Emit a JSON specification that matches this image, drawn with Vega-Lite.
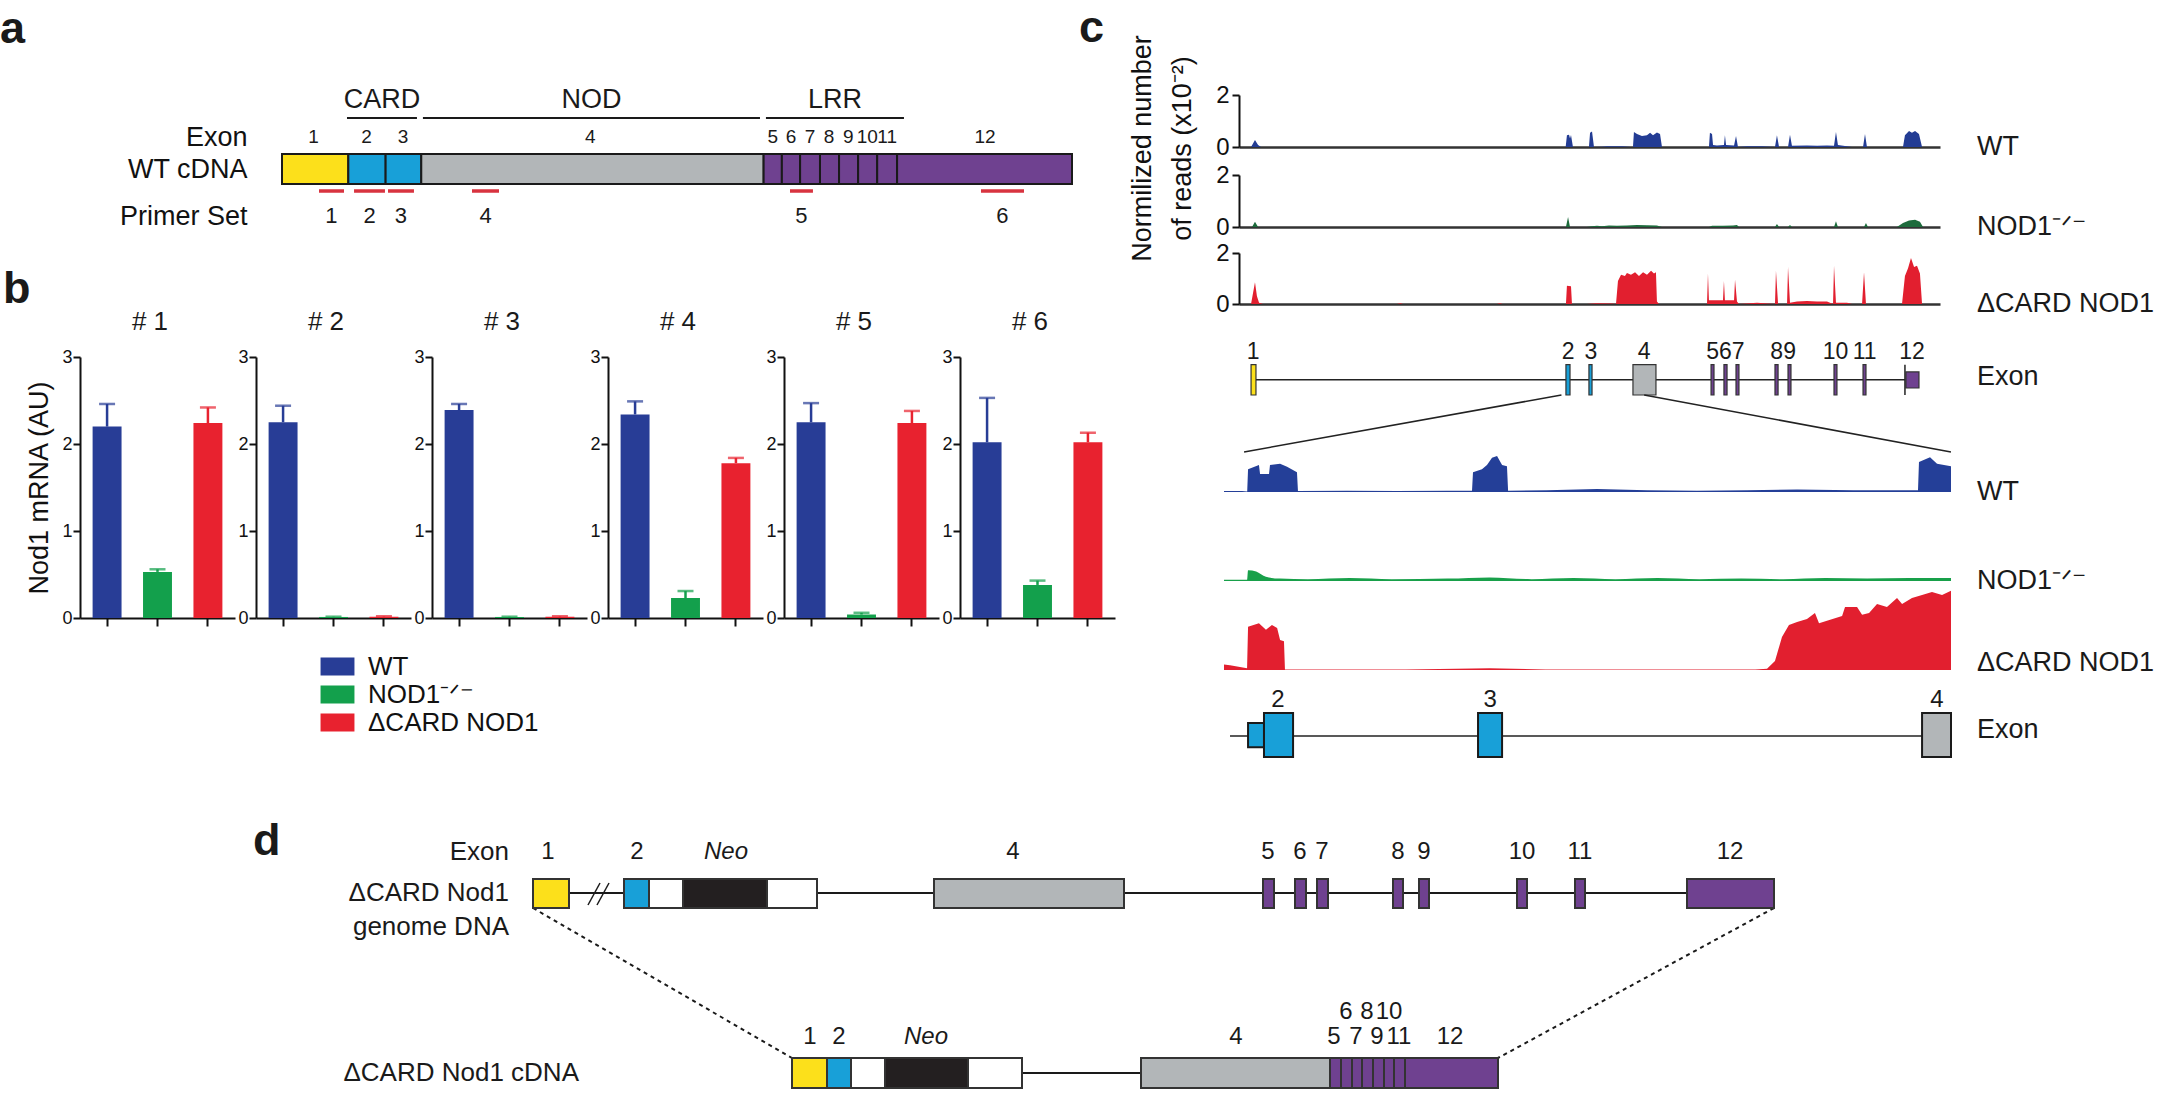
{
  "$schema": "https://vega.github.io/schema/vega-lite/v6.json",
  "padding": 0,
  "autosize": {"type": "pad"},
  "background": "white",
  "spacing": 32,
  "bounds": "full",
  "align": "none",
  "config": {
    "view": {"stroke": null},
    "font": "Liberation Sans",
    "title": {"font": "Liberation Sans", "fontWeight": "normal", "color": "#1a1a1a"},
    "axis": {"grid": false, "domainColor": "#111", "tickColor": "#111", "labelColor": "#111", "titleColor": "#111", "domainWidth": 2, "tickWidth": 2, "labelFont": "Liberation Sans", "titleFont": "Liberation Sans"},
    "legend": {"labelFont": "Liberation Sans", "labelColor": "#111"},
    "text": {"font": "Liberation Sans", "color": "#1a1a1a"}
  },
  "datasets": {
    "qpcr": [
      {"set": 1, "genotype": "WT", "mean": 2.2, "upper": 2.46},
      {"set": 1, "genotype": "NOD1⁻ᐟ⁻", "mean": 0.53, "upper": 0.56},
      {"set": 1, "genotype": "ΔCARD NOD1", "mean": 2.24, "upper": 2.42},
      {"set": 2, "genotype": "WT", "mean": 2.25, "upper": 2.44},
      {"set": 2, "genotype": "NOD1⁻ᐟ⁻", "mean": 0.012, "upper": 0.015},
      {"set": 2, "genotype": "ΔCARD NOD1", "mean": 0.015, "upper": 0.02},
      {"set": 3, "genotype": "WT", "mean": 2.39, "upper": 2.46},
      {"set": 3, "genotype": "NOD1⁻ᐟ⁻", "mean": 0.012, "upper": 0.015},
      {"set": 3, "genotype": "ΔCARD NOD1", "mean": 0.015, "upper": 0.02},
      {"set": 4, "genotype": "WT", "mean": 2.34, "upper": 2.49},
      {"set": 4, "genotype": "NOD1⁻ᐟ⁻", "mean": 0.23, "upper": 0.31},
      {"set": 4, "genotype": "ΔCARD NOD1", "mean": 1.78, "upper": 1.84},
      {"set": 5, "genotype": "WT", "mean": 2.25, "upper": 2.47},
      {"set": 5, "genotype": "NOD1⁻ᐟ⁻", "mean": 0.04, "upper": 0.06},
      {"set": 5, "genotype": "ΔCARD NOD1", "mean": 2.24, "upper": 2.38},
      {"set": 6, "genotype": "WT", "mean": 2.02, "upper": 2.53},
      {"set": 6, "genotype": "NOD1⁻ᐟ⁻", "mean": 0.38, "upper": 0.43},
      {"set": 6, "genotype": "ΔCARD NOD1", "mean": 2.02, "upper": 2.13}
    ]
  },
  "vconcat": [
    {
      "hconcat": [
        {
          "vconcat": [
            {
              "hconcat": [
                {
                  "width": 262, "height": 265,
                  "data": {"values": []},
                  "mark": {"type": "text"},
                  "title": {"text": "a", "orient": "top", "anchor": "start", "frame": "group", "offset": -88, "baseline": "alphabetic", "fontSize": 45, "fontWeight": "bold"}
                },
                {
                  "width": 790, "height": 265,
                  "layer": [
                    {
                      "data": {"values": [
                        {"exon": "1", "start": 0, "end": 80, "part": "exon1"},
                        {"exon": "2", "start": 80, "end": 125, "part": "card"},
                        {"exon": "3", "start": 125, "end": 168, "part": "card"},
                        {"exon": "4", "start": 168, "end": 581, "part": "nod"},
                        {"exon": "5", "start": 581, "end": 603, "part": "lrr"},
                        {"exon": "6", "start": 603, "end": 625, "part": "lrr"},
                        {"exon": "7", "start": 625, "end": 649, "part": "lrr"},
                        {"exon": "8", "start": 649, "end": 672, "part": "lrr"},
                        {"exon": "9", "start": 672, "end": 695, "part": "lrr"},
                        {"exon": "10", "start": 695, "end": 718, "part": "lrr"},
                        {"exon": "11", "start": 718, "end": 742, "part": "lrr"},
                        {"exon": "12", "start": 742, "end": 953, "part": "lrr"}
                      ]},
                      "mark": {"type": "rect", "stroke": "#1a1a1a", "strokeWidth": 2},
                      "encoding": {
                        "x": {"field": "start", "type": "quantitative", "scale": {"domain": [0, 953], "nice": false, "zero": false}, "axis": null},
                        "x2": {"field": "end"},
                        "y": {"datum": 15.4, "type": "quantitative", "scale": {"domain": [0, 26.5], "range": [0, 265], "nice": false, "zero": false},
                          "axis": {"values": [13.7, 16.9, 21.6], "labelExpr": "datum.value == 13.7 ? 'Exon' : datum.value == 16.9 ? 'WT cDNA' : 'Primer Set'", "domain": false, "ticks": false, "tickSize": 0, "labelPadding": 35, "labelFontSize": 27, "labelFont": "Liberation Sans Narrow, Liberation Sans", "labelAlign": "right", "labelBaseline": "middle", "title": null}},
                        "y2": {"datum": 18.4},
                        "fill": {"field": "part", "type": "nominal", "scale": {"domain": ["exon1", "card", "nod", "lrr", "neo", "vector"], "range": ["#fce01b", "#18a0d8", "#b2b6b8", "#6f4190", "#231f20", "#ffffff"]}, "legend": null}
                      }
                    },
                    {
                      "data": {"values": [
                        {"domain": "CARD", "from": 78.4, "to": 162.8, "center": 120.6},
                        {"domain": "NOD", "from": 170, "to": 576.6, "center": 373.3},
                        {"domain": "LRR", "from": 583.8, "to": 750.3, "center": 667}
                      ]},
                      "layer": [
                        {"mark": {"type": "rule", "strokeWidth": 2, "color": "#1a1a1a"},
                         "encoding": {"x": {"field": "from", "type": "quantitative", "axis": null}, "x2": {"field": "to"}, "y": {"datum": 11.8, "type": "quantitative"}}},
                        {"mark": {"type": "text", "fontSize": 27, "font": "Liberation Sans Narrow, Liberation Sans", "baseline": "middle"},
                         "encoding": {"x": {"field": "center", "type": "quantitative", "axis": null}, "y": {"datum": 10.0, "type": "quantitative"}, "text": {"field": "domain"}}}
                      ]
                    },
                    {
                      "data": {"values": [
                        {"exon": "1", "at": 38}, {"exon": "2", "at": 102}, {"exon": "3", "at": 146}, {"exon": "4", "at": 372},
                        {"exon": "5", "at": 592}, {"exon": "6", "at": 614}, {"exon": "7", "at": 637}, {"exon": "8", "at": 660},
                        {"exon": "9", "at": 683}, {"exon": "10", "at": 706}, {"exon": "11", "at": 730}, {"exon": "12", "at": 848}
                      ]},
                      "mark": {"type": "text", "fontSize": 19, "font": "Liberation Sans Narrow, Liberation Sans", "baseline": "middle"},
                      "encoding": {"x": {"field": "at", "type": "quantitative", "axis": null}, "y": {"datum": 13.7, "type": "quantitative"}, "text": {"field": "exon"}}
                    },
                    {
                      "data": {"values": [
                        {"primer": "1", "from": 44.6, "to": 74.8, "center": 59.7},
                        {"primer": "2", "from": 86.9, "to": 124.2, "center": 105.6},
                        {"primer": "3", "from": 127.9, "to": 159.2, "center": 143.5},
                        {"primer": "4", "from": 229.2, "to": 261.8, "center": 245.5},
                        {"primer": "5", "from": 612.8, "to": 640.5, "center": 626.6},
                        {"primer": "6", "from": 843.2, "to": 895.1, "center": 869.1}
                      ]},
                      "layer": [
                        {"mark": {"type": "rule", "strokeWidth": 3.5, "color": "#d8333f"},
                         "encoding": {"x": {"field": "from", "type": "quantitative", "axis": null}, "x2": {"field": "to"}, "y": {"datum": 19.1, "type": "quantitative"}}},
                        {"mark": {"type": "text", "fontSize": 22, "font": "Liberation Sans Narrow, Liberation Sans", "baseline": "middle"},
                         "encoding": {"x": {"field": "center", "type": "quantitative", "axis": null}, "y": {"datum": 21.6, "type": "quantitative"}, "text": {"field": "primer"}}}
                      ]
                    }
                  ]
                }
              ],
              "spacing": 20,
              "bounds": "flush"
            },
            {
              "hconcat": [
                {
                  "width": 59, "height": 353,
                  "data": {"values": []},
                  "mark": {"type": "text"},
                  "title": {"text": "b", "orient": "top", "anchor": "start", "frame": "group", "offset": -83, "dx": 3, "baseline": "alphabetic", "fontSize": 45, "fontWeight": "bold"}
                },
                {
                  "width": 155, "height": 353,
                  "data": {"name": "qpcr"},
                  "transform": [{"filter": "datum.set == 1"}],
                  "title": {"text": "# 1", "fontSize": 26, "fontWeight": "normal", "anchor": "middle", "frame": "group", "dx": -7.5, "offset": -91, "baseline": "alphabetic"},
                  "encoding": {
                    "x": {"field": "genotype", "type": "nominal", "sort": ["WT", "NOD1⁻ᐟ⁻", "ΔCARD NOD1"], "scale": {"paddingInner": 0.426, "paddingOuter": 0.25}, "axis": {"labels": false, "title": null, "tickSize": 8}},
                    "color": {"field": "genotype", "type": "nominal", "scale": {"domain": ["WT", "NOD1⁻ᐟ⁻", "ΔCARD NOD1"], "range": ["#283d96", "#13a04c", "#e8222f"]},
                      "legend": {"orient": "none", "legendX": 323, "legendY": 652, "title": null, "symbolType": "M-1.19,-0.63H1.19V0.63H-1.19Z", "symbolSize": 812, "symbolStrokeWidth": 0, "symbolOpacity": 1, "labelFontSize": 26, "labelOffset": 16, "labelLimit": 0, "rowPadding": 0, "padding": 0}}
                  },
                  "layer": [
                    {"mark": {"type": "bar"}, "encoding": {"y": {"field": "mean", "type": "quantitative", "scale": {"domain": [0, 3], "range": [353, 92]},
                      "axis": {"values": [0, 1, 2, 3], "format": "d", "tickSize": 7, "labelPadding": 1, "labelFontSize": 18, "title": "Nod1 mRNA (AU)", "titleFontSize": 27, "titleFontWeight": "normal", "titlePadding": 8}}}},
                    {"mark": {"type": "rule", "strokeWidth": 2.5}, "encoding": {"y": {"field": "mean", "type": "quantitative"}, "y2": {"field": "upper"}}},
                    {"mark": {"type": "tick", "thickness": 2.5, "size": 16}, "encoding": {"y": {"field": "upper", "type": "quantitative"}}}
                  ]
                },
                {
                  "width": 155, "height": 353,
                  "data": {"name": "qpcr"},
                  "transform": [{"filter": "datum.set == 2"}],
                  "title": {"text": "# 2", "fontSize": 26, "fontWeight": "normal", "anchor": "middle", "frame": "group", "dx": -7.5, "offset": -91, "baseline": "alphabetic"},
                  "encoding": {
                    "x": {"field": "genotype", "type": "nominal", "sort": ["WT", "NOD1⁻ᐟ⁻", "ΔCARD NOD1"], "scale": {"paddingInner": 0.426, "paddingOuter": 0.25}, "axis": {"labels": false, "title": null, "tickSize": 8}},
                    "color": {"field": "genotype", "type": "nominal", "scale": {"domain": ["WT", "NOD1⁻ᐟ⁻", "ΔCARD NOD1"], "range": ["#283d96", "#13a04c", "#e8222f"]},
                      "legend": {"orient": "none", "legendX": 323, "legendY": 652, "title": null, "symbolType": "M-1.19,-0.63H1.19V0.63H-1.19Z", "symbolSize": 812, "symbolStrokeWidth": 0, "symbolOpacity": 1, "labelFontSize": 26, "labelOffset": 16, "labelLimit": 0, "rowPadding": 0, "padding": 0}}
                  },
                  "layer": [
                    {"mark": {"type": "bar"}, "encoding": {"y": {"field": "mean", "type": "quantitative", "scale": {"domain": [0, 3], "range": [353, 92]},
                      "axis": {"values": [0, 1, 2, 3], "format": "d", "tickSize": 7, "labelPadding": 1, "labelFontSize": 18, "title": null}}}},
                    {"mark": {"type": "rule", "strokeWidth": 2.5}, "encoding": {"y": {"field": "mean", "type": "quantitative"}, "y2": {"field": "upper"}}},
                    {"mark": {"type": "tick", "thickness": 2.5, "size": 16}, "encoding": {"y": {"field": "upper", "type": "quantitative"}}}
                  ]
                },
                {
                  "width": 155, "height": 353,
                  "data": {"name": "qpcr"},
                  "transform": [{"filter": "datum.set == 3"}],
                  "title": {"text": "# 3", "fontSize": 26, "fontWeight": "normal", "anchor": "middle", "frame": "group", "dx": -7.5, "offset": -91, "baseline": "alphabetic"},
                  "encoding": {
                    "x": {"field": "genotype", "type": "nominal", "sort": ["WT", "NOD1⁻ᐟ⁻", "ΔCARD NOD1"], "scale": {"paddingInner": 0.426, "paddingOuter": 0.25}, "axis": {"labels": false, "title": null, "tickSize": 8}},
                    "color": {"field": "genotype", "type": "nominal", "scale": {"domain": ["WT", "NOD1⁻ᐟ⁻", "ΔCARD NOD1"], "range": ["#283d96", "#13a04c", "#e8222f"]},
                      "legend": {"orient": "none", "legendX": 323, "legendY": 652, "title": null, "symbolType": "M-1.19,-0.63H1.19V0.63H-1.19Z", "symbolSize": 812, "symbolStrokeWidth": 0, "symbolOpacity": 1, "labelFontSize": 26, "labelOffset": 16, "labelLimit": 0, "rowPadding": 0, "padding": 0}}
                  },
                  "layer": [
                    {"mark": {"type": "bar"}, "encoding": {"y": {"field": "mean", "type": "quantitative", "scale": {"domain": [0, 3], "range": [353, 92]},
                      "axis": {"values": [0, 1, 2, 3], "format": "d", "tickSize": 7, "labelPadding": 1, "labelFontSize": 18, "title": null}}}},
                    {"mark": {"type": "rule", "strokeWidth": 2.5}, "encoding": {"y": {"field": "mean", "type": "quantitative"}, "y2": {"field": "upper"}}},
                    {"mark": {"type": "tick", "thickness": 2.5, "size": 16}, "encoding": {"y": {"field": "upper", "type": "quantitative"}}}
                  ]
                },
                {
                  "width": 155, "height": 353,
                  "data": {"name": "qpcr"},
                  "transform": [{"filter": "datum.set == 4"}],
                  "title": {"text": "# 4", "fontSize": 26, "fontWeight": "normal", "anchor": "middle", "frame": "group", "dx": -7.5, "offset": -91, "baseline": "alphabetic"},
                  "encoding": {
                    "x": {"field": "genotype", "type": "nominal", "sort": ["WT", "NOD1⁻ᐟ⁻", "ΔCARD NOD1"], "scale": {"paddingInner": 0.426, "paddingOuter": 0.25}, "axis": {"labels": false, "title": null, "tickSize": 8}},
                    "color": {"field": "genotype", "type": "nominal", "scale": {"domain": ["WT", "NOD1⁻ᐟ⁻", "ΔCARD NOD1"], "range": ["#283d96", "#13a04c", "#e8222f"]},
                      "legend": {"orient": "none", "legendX": 323, "legendY": 652, "title": null, "symbolType": "M-1.19,-0.63H1.19V0.63H-1.19Z", "symbolSize": 812, "symbolStrokeWidth": 0, "symbolOpacity": 1, "labelFontSize": 26, "labelOffset": 16, "labelLimit": 0, "rowPadding": 0, "padding": 0}}
                  },
                  "layer": [
                    {"mark": {"type": "bar"}, "encoding": {"y": {"field": "mean", "type": "quantitative", "scale": {"domain": [0, 3], "range": [353, 92]},
                      "axis": {"values": [0, 1, 2, 3], "format": "d", "tickSize": 7, "labelPadding": 1, "labelFontSize": 18, "title": null}}}},
                    {"mark": {"type": "rule", "strokeWidth": 2.5}, "encoding": {"y": {"field": "mean", "type": "quantitative"}, "y2": {"field": "upper"}}},
                    {"mark": {"type": "tick", "thickness": 2.5, "size": 16}, "encoding": {"y": {"field": "upper", "type": "quantitative"}}}
                  ]
                },
                {
                  "width": 155, "height": 353,
                  "data": {"name": "qpcr"},
                  "transform": [{"filter": "datum.set == 5"}],
                  "title": {"text": "# 5", "fontSize": 26, "fontWeight": "normal", "anchor": "middle", "frame": "group", "dx": -7.5, "offset": -91, "baseline": "alphabetic"},
                  "encoding": {
                    "x": {"field": "genotype", "type": "nominal", "sort": ["WT", "NOD1⁻ᐟ⁻", "ΔCARD NOD1"], "scale": {"paddingInner": 0.426, "paddingOuter": 0.25}, "axis": {"labels": false, "title": null, "tickSize": 8}},
                    "color": {"field": "genotype", "type": "nominal", "scale": {"domain": ["WT", "NOD1⁻ᐟ⁻", "ΔCARD NOD1"], "range": ["#283d96", "#13a04c", "#e8222f"]},
                      "legend": {"orient": "none", "legendX": 323, "legendY": 652, "title": null, "symbolType": "M-1.19,-0.63H1.19V0.63H-1.19Z", "symbolSize": 812, "symbolStrokeWidth": 0, "symbolOpacity": 1, "labelFontSize": 26, "labelOffset": 16, "labelLimit": 0, "rowPadding": 0, "padding": 0}}
                  },
                  "layer": [
                    {"mark": {"type": "bar"}, "encoding": {"y": {"field": "mean", "type": "quantitative", "scale": {"domain": [0, 3], "range": [353, 92]},
                      "axis": {"values": [0, 1, 2, 3], "format": "d", "tickSize": 7, "labelPadding": 1, "labelFontSize": 18, "title": null}}}},
                    {"mark": {"type": "rule", "strokeWidth": 2.5}, "encoding": {"y": {"field": "mean", "type": "quantitative"}, "y2": {"field": "upper"}}},
                    {"mark": {"type": "tick", "thickness": 2.5, "size": 16}, "encoding": {"y": {"field": "upper", "type": "quantitative"}}}
                  ]
                },
                {
                  "width": 155, "height": 353,
                  "data": {"name": "qpcr"},
                  "transform": [{"filter": "datum.set == 6"}],
                  "title": {"text": "# 6", "fontSize": 26, "fontWeight": "normal", "anchor": "middle", "frame": "group", "dx": -7.5, "offset": -91, "baseline": "alphabetic"},
                  "encoding": {
                    "x": {"field": "genotype", "type": "nominal", "sort": ["WT", "NOD1⁻ᐟ⁻", "ΔCARD NOD1"], "scale": {"paddingInner": 0.426, "paddingOuter": 0.25}, "axis": {"labels": false, "title": null, "tickSize": 8}},
                    "color": {"field": "genotype", "type": "nominal", "scale": {"domain": ["WT", "NOD1⁻ᐟ⁻", "ΔCARD NOD1"], "range": ["#283d96", "#13a04c", "#e8222f"]},
                      "legend": {"orient": "none", "legendX": 323, "legendY": 652, "title": null, "symbolType": "M-1.19,-0.63H1.19V0.63H-1.19Z", "symbolSize": 812, "symbolStrokeWidth": 0, "symbolOpacity": 1, "labelFontSize": 26, "labelOffset": 16, "labelLimit": 0, "rowPadding": 0, "padding": 0}}
                  },
                  "layer": [
                    {"mark": {"type": "bar"}, "encoding": {"y": {"field": "mean", "type": "quantitative", "scale": {"domain": [0, 3], "range": [353, 92]},
                      "axis": {"values": [0, 1, 2, 3], "format": "d", "tickSize": 7, "labelPadding": 1, "labelFontSize": 18, "title": null}}}},
                    {"mark": {"type": "rule", "strokeWidth": 2.5}, "encoding": {"y": {"field": "mean", "type": "quantitative"}, "y2": {"field": "upper"}}},
                    {"mark": {"type": "tick", "thickness": 2.5, "size": 16}, "encoding": {"y": {"field": "upper", "type": "quantitative"}}}
                  ]
                }
              ],
              "spacing": 21,
              "bounds": "flush"
            }
          ],
          "spacing": 0,
          "bounds": "full",
          "align": "none"
        },
        {
          "vconcat": [
            {
              "width": 701, "height": 147,
              "layer": [
                {
                  "data": {"values": [
                    {"kb": 0, "reads": 0}, {"kb": 0.86, "reads": 0}, {"kb": 1.14, "reads": 0.27}, {"kb": 1.36, "reads": 0.08}, {"kb": 1.57, "reads": 0},
                    {"kb": 23.3, "reads": 0}, {"kb": 23.39, "reads": 0.45}, {"kb": 23.54, "reads": 0.47}, {"kb": 23.61, "reads": 0.33}, {"kb": 23.68, "reads": 0.46}, {"kb": 23.82, "reads": 0},
                    {"kb": 24.96, "reads": 0}, {"kb": 25.04, "reads": 0.55}, {"kb": 25.18, "reads": 0.6}, {"kb": 25.32, "reads": 0},
                    {"kb": 25.89, "reads": 0.01}, {"kb": 26.25, "reads": 0.03}, {"kb": 27.32, "reads": 0.03}, {"kb": 27.96, "reads": 0},
                    {"kb": 28.1, "reads": 0}, {"kb": 28.17, "reads": 0.58}, {"kb": 28.39, "reads": 0.5}, {"kb": 28.74, "reads": 0.42}, {"kb": 29.1, "reads": 0.45}, {"kb": 29.32, "reads": 0.55}, {"kb": 29.53, "reads": 0.45}, {"kb": 29.81, "reads": 0.56}, {"kb": 30.03, "reads": 0.5}, {"kb": 30.17, "reads": 0},
                    {"kb": 33.52, "reads": 0}, {"kb": 33.59, "reads": 0.55}, {"kb": 33.74, "reads": 0.5}, {"kb": 33.81, "reads": 0.08}, {"kb": 34.09, "reads": 0.06}, {"kb": 34.59, "reads": 0.08}, {"kb": 34.66, "reads": 0.45}, {"kb": 34.74, "reads": 0.08}, {"kb": 35.31, "reads": 0.06}, {"kb": 35.45, "reads": 0.42}, {"kb": 35.59, "reads": 0},
                    {"kb": 36.23, "reads": 0.03}, {"kb": 37.3, "reads": 0.03}, {"kb": 38.23, "reads": 0}, {"kb": 38.37, "reads": 0.45}, {"kb": 38.52, "reads": 0},
                    {"kb": 39.16, "reads": 0}, {"kb": 39.3, "reads": 0.47}, {"kb": 39.44, "reads": 0.05}, {"kb": 40.51, "reads": 0.06}, {"kb": 41.23, "reads": 0.05}, {"kb": 41.94, "reads": 0.06}, {"kb": 42.44, "reads": 0.05}, {"kb": 42.58, "reads": 0.58}, {"kb": 42.72, "reads": 0.08}, {"kb": 43.22, "reads": 0.04}, {"kb": 43.72, "reads": 0},
                    {"kb": 44.51, "reads": 0}, {"kb": 44.65, "reads": 0.5}, {"kb": 44.79, "reads": 0},
                    {"kb": 47.36, "reads": 0}, {"kb": 47.5, "reads": 0.45}, {"kb": 47.79, "reads": 0.62}, {"kb": 48.0, "reads": 0.55}, {"kb": 48.22, "reads": 0.62}, {"kb": 48.5, "reads": 0.5}, {"kb": 48.72, "reads": 0}, {"kb": 50, "reads": 0}
                  ]},
                  "mark": {"type": "area", "color": "#233c94", "interpolate": "linear"},
                  "encoding": {
                    "x": {"field": "kb", "type": "quantitative", "scale": {"domain": [0, 50], "nice": false, "zero": false}, "axis": {"labels": false, "ticks": false, "title": null, "domainWidth": 2.5, "domainColor": "#333"}},
                    "y": {"field": "reads", "type": "quantitative", "scale": {"domain": [0, 2], "range": [147, 95], "nice": false},
                      "axis": {"values": [0, 1, 2], "format": "d", "tickSize": 7, "labelPadding": 3, "labelFontSize": 24, "title": ["Normilized number", "of reads (x10⁻²)"], "titleFontSize": 27, "titleFontWeight": "normal", "titleAngle": -90, "titleX": -97, "titleY": 148, "titleAlign": "center", "titleBaseline": "middle", "titleLineHeight": 40}}
                  }
                },
                {
                  "data": {"values": [{"track": "WT"}]},
                  "mark": {"type": "text", "align": "left", "baseline": "middle", "dx": 37, "fontSize": 27},
                  "encoding": {"x": {"datum": 50, "type": "quantitative"}, "y": {"datum": 0, "type": "quantitative"}, "text": {"field": "track"}}
                }
              ]
            },
            {
              "width": 701, "height": 80,
              "layer": [
                {
                  "data": {"values": [
                    {"kb": 0, "reads": 0}, {"kb": 0.93, "reads": 0}, {"kb": 1.14, "reads": 0.2}, {"kb": 1.36, "reads": 0},
                    {"kb": 23.32, "reads": 0}, {"kb": 23.47, "reads": 0.38}, {"kb": 23.61, "reads": 0},
                    {"kb": 24.8, "reads": 0}, {"kb": 25.18, "reads": 0.03}, {"kb": 25.53, "reads": 0.05}, {"kb": 25.89, "reads": 0.03}, {"kb": 26.39, "reads": 0.06}, {"kb": 26.96, "reads": 0.05}, {"kb": 27.67, "reads": 0.06}, {"kb": 28.39, "reads": 0.08}, {"kb": 29.1, "reads": 0.07}, {"kb": 29.81, "reads": 0.06}, {"kb": 30.17, "reads": 0},
                    {"kb": 33.52, "reads": 0}, {"kb": 33.74, "reads": 0.05}, {"kb": 34.52, "reads": 0.05}, {"kb": 35.24, "reads": 0.06}, {"kb": 35.52, "reads": 0.08}, {"kb": 35.66, "reads": 0},
                    {"kb": 38.23, "reads": 0}, {"kb": 38.37, "reads": 0.12}, {"kb": 38.52, "reads": 0},
                    {"kb": 39.16, "reads": 0}, {"kb": 39.3, "reads": 0.08}, {"kb": 39.44, "reads": 0},
                    {"kb": 42.44, "reads": 0}, {"kb": 42.58, "reads": 0.22}, {"kb": 42.72, "reads": 0},
                    {"kb": 44.58, "reads": 0}, {"kb": 44.72, "reads": 0.15}, {"kb": 44.86, "reads": 0},
                    {"kb": 46.93, "reads": 0}, {"kb": 47.36, "reads": 0.15}, {"kb": 47.79, "reads": 0.25}, {"kb": 48.22, "reads": 0.28}, {"kb": 48.57, "reads": 0.2}, {"kb": 48.79, "reads": 0}, {"kb": 50, "reads": 0}
                  ]},
                  "mark": {"type": "area", "color": "#1d6b3c", "interpolate": "linear"},
                  "encoding": {
                    "x": {"field": "kb", "type": "quantitative", "scale": {"domain": [0, 50], "nice": false, "zero": false}, "axis": {"labels": false, "ticks": false, "title": null, "domainWidth": 2.5, "domainColor": "#333"}},
                    "y": {"field": "reads", "type": "quantitative", "scale": {"domain": [0, 2], "range": [80, 28], "nice": false},
                      "axis": {"values": [0, 1, 2], "format": "d", "tickSize": 7, "labelPadding": 3, "labelFontSize": 24, "title": null}}
                  }
                },
                {
                  "data": {"values": [{"track": "NOD1⁻ᐟ⁻"}]},
                  "mark": {"type": "text", "align": "left", "baseline": "middle", "dx": 37, "fontSize": 27},
                  "encoding": {"x": {"datum": 50, "type": "quantitative"}, "y": {"datum": 0, "type": "quantitative"}, "text": {"field": "track"}}
                }
              ]
            },
            {
              "width": 701, "height": 77,
              "layer": [
                {
                  "data": {"values": [
                    {"kb": 0, "reads": 0}, {"kb": 0.86, "reads": 0}, {"kb": 1.14, "reads": 0.85}, {"kb": 1.28, "reads": 0.3}, {"kb": 1.43, "reads": 0.05}, {"kb": 1.71, "reads": 0},
                    {"kb": 11.27, "reads": 0}, {"kb": 11.5, "reads": 0.03}, {"kb": 11.7, "reads": 0}, {"kb": 18.4, "reads": 0}, {"kb": 18.6, "reads": 0.03}, {"kb": 18.8, "reads": 0},
                    {"kb": 23.32, "reads": 0}, {"kb": 23.39, "reads": 0.72}, {"kb": 23.68, "reads": 0.7}, {"kb": 23.75, "reads": 0},
                    {"kb": 24.82, "reads": 0}, {"kb": 25.5, "reads": 0.03}, {"kb": 26.6, "reads": 0.02}, {"kb": 26.89, "reads": 0},
                    {"kb": 27.03, "reads": 0.9}, {"kb": 27.25, "reads": 1.15}, {"kb": 27.53, "reads": 1.1}, {"kb": 27.67, "reads": 1.22}, {"kb": 27.96, "reads": 1.15}, {"kb": 28.25, "reads": 1.25}, {"kb": 28.53, "reads": 1.1}, {"kb": 28.82, "reads": 1.25}, {"kb": 29.1, "reads": 1.15}, {"kb": 29.39, "reads": 1.3}, {"kb": 29.6, "reads": 1.2}, {"kb": 29.74, "reads": 1.25}, {"kb": 29.81, "reads": 0.1}, {"kb": 29.96, "reads": 0},
                    {"kb": 33.38, "reads": 0}, {"kb": 33.45, "reads": 1.2}, {"kb": 33.52, "reads": 0.15}, {"kb": 34.52, "reads": 0.15}, {"kb": 34.59, "reads": 0.9}, {"kb": 34.66, "reads": 0.15}, {"kb": 35.31, "reads": 0.15}, {"kb": 35.38, "reads": 0.95}, {"kb": 35.52, "reads": 0.1}, {"kb": 35.66, "reads": 0},
                    {"kb": 36.95, "reads": 0.05}, {"kb": 38.23, "reads": 0}, {"kb": 38.3, "reads": 1.3}, {"kb": 38.45, "reads": 0},
                    {"kb": 39.09, "reads": 0}, {"kb": 39.16, "reads": 1.45}, {"kb": 39.3, "reads": 0.05}, {"kb": 39.8, "reads": 0.1}, {"kb": 40.51, "reads": 0.12}, {"kb": 41.23, "reads": 0.1}, {"kb": 41.94, "reads": 0.1}, {"kb": 42.37, "reads": 0}, {"kb": 42.44, "reads": 1.5}, {"kb": 42.58, "reads": 0.05}, {"kb": 43.37, "reads": 0.05}, {"kb": 43.72, "reads": 0},
                    {"kb": 44.44, "reads": 0}, {"kb": 44.58, "reads": 1.25}, {"kb": 44.72, "reads": 0},
                    {"kb": 47.29, "reads": 0}, {"kb": 47.5, "reads": 1.1}, {"kb": 47.72, "reads": 1.4}, {"kb": 47.93, "reads": 1.8}, {"kb": 48.15, "reads": 1.45}, {"kb": 48.36, "reads": 1.5}, {"kb": 48.57, "reads": 1.2}, {"kb": 48.72, "reads": 0}, {"kb": 50, "reads": 0}
                  ]},
                  "mark": {"type": "area", "color": "#e21f2f", "interpolate": "linear"},
                  "encoding": {
                    "x": {"field": "kb", "type": "quantitative", "scale": {"domain": [0, 50], "nice": false, "zero": false}, "axis": {"labels": false, "ticks": false, "title": null, "domainWidth": 2.5, "domainColor": "#333"}},
                    "y": {"field": "reads", "type": "quantitative", "scale": {"domain": [0, 2], "range": [77, 26], "nice": false},
                      "axis": {"values": [0, 1, 2], "format": "d", "tickSize": 7, "labelPadding": 3, "labelFontSize": 24, "title": null}}
                  }
                },
                {
                  "data": {"values": [{"track": "ΔCARD NOD1"}]},
                  "mark": {"type": "text", "align": "left", "baseline": "middle", "dx": 37, "fontSize": 27},
                  "encoding": {"x": {"datum": 50, "type": "quantitative"}, "y": {"datum": 0, "type": "quantitative"}, "text": {"field": "track"}}
                }
              ]
            },
            {
              "width": 701, "height": 91,
              "layer": [
                {
                  "data": {"values": [{"from": 1.21, "to": 47.5}]},
                  "mark": {"type": "rule", "color": "#222", "strokeWidth": 1.5},
                  "encoding": {
                    "x": {"field": "from", "type": "quantitative", "scale": {"domain": [0, 50], "nice": false, "zero": false}, "axis": null},
                    "x2": {"field": "to"},
                    "y": {"datum": 0.5, "type": "quantitative", "scale": {"domain": [0, 3], "range": [91, 0], "nice": false}, "axis": null}
                  }
                },
                {
                  "data": {"values": [
                    {"exon": "1", "start": 0.86, "end": 1.21, "part": "exon1"},
                    {"exon": "2", "start": 23.32, "end": 23.61, "part": "card"},
                    {"exon": "3", "start": 24.96, "end": 25.18, "part": "card"},
                    {"exon": "4", "start": 28.1, "end": 29.74, "part": "nod"},
                    {"exon": "5", "start": 33.67, "end": 33.88, "part": "lrr"},
                    {"exon": "6", "start": 34.59, "end": 34.81, "part": "lrr"},
                    {"exon": "7", "start": 35.45, "end": 35.66, "part": "lrr"},
                    {"exon": "8", "start": 38.23, "end": 38.45, "part": "lrr"},
                    {"exon": "9", "start": 39.16, "end": 39.37, "part": "lrr"},
                    {"exon": "10", "start": 42.44, "end": 42.65, "part": "lrr"},
                    {"exon": "11", "start": 44.51, "end": 44.72, "part": "lrr"}
                  ]},
                  "mark": {"type": "rect", "stroke": "#333", "strokeWidth": 1.2},
                  "encoding": {
                    "x": {"field": "start", "type": "quantitative", "axis": null},
                    "x2": {"field": "end"},
                    "y": {"datum": 0, "type": "quantitative", "axis": null},
                    "y2": {"datum": 1},
                    "fill": {"field": "part", "type": "nominal", "scale": {"domain": ["exon1", "card", "nod", "lrr", "neo", "vector"], "range": ["#fce01b", "#18a0d8", "#b2b6b8", "#6f4190", "#231f20", "#ffffff"]}, "legend": null}
                  }
                },
                {
                  "data": {"values": [{"exon": "12", "start": 47.57, "end": 48.5, "part": "lrr"}]},
                  "mark": {"type": "rect", "stroke": "#333", "strokeWidth": 1.2},
                  "encoding": {
                    "x": {"field": "start", "type": "quantitative", "axis": null},
                    "x2": {"field": "end"},
                    "y": {"datum": 0.23, "type": "quantitative", "axis": null},
                    "y2": {"datum": 0.76},
                    "fill": {"field": "part", "type": "nominal", "scale": {"domain": ["exon1", "card", "nod", "lrr", "neo", "vector"], "range": ["#fce01b", "#18a0d8", "#b2b6b8", "#6f4190", "#231f20", "#ffffff"]}, "legend": null}
                  }
                },
                {
                  "data": {"values": [{"kb": 47.5}]},
                  "mark": {"type": "rule", "color": "#222", "strokeWidth": 1.5},
                  "encoding": {
                    "x": {"field": "kb", "type": "quantitative", "axis": null},
                    "y": {"datum": 0, "type": "quantitative", "axis": null},
                    "y2": {"datum": 1}
                  }
                },
                {
                  "data": {"values": [
                    {"exon": "1", "kb": 1.0}, {"exon": "2", "kb": 23.47}, {"exon": "3", "kb": 25.1}, {"exon": "4", "kb": 28.9},
                    {"exon": "5", "kb": 33.78}, {"exon": "6", "kb": 34.7}, {"exon": "7", "kb": 35.6}, {"exon": "8", "kb": 38.34},
                    {"exon": "9", "kb": 39.27}, {"exon": "10", "kb": 42.55}, {"exon": "11", "kb": 44.62}, {"exon": "12", "kb": 48.0}
                  ]},
                  "mark": {"type": "text", "fontSize": 23, "baseline": "middle"},
                  "encoding": {
                    "x": {"field": "kb", "type": "quantitative", "axis": null},
                    "y": {"datum": 1.42, "type": "quantitative", "axis": null},
                    "text": {"field": "exon"}
                  }
                },
                {
                  "data": {"values": [{"track": "Exon"}]},
                  "mark": {"type": "text", "align": "left", "baseline": "middle", "dx": 37, "fontSize": 27},
                  "encoding": {"x": {"datum": 50, "type": "quantitative", "axis": null}, "y": {"datum": 0.59, "type": "quantitative", "axis": null}, "text": {"field": "track"}}
                }
              ]
            },
            {
              "width": 701, "height": 57,
              "data": {"values": [{"from": 23.0, "to": 0.36}, {"from": 28.9, "to": 50.78}]},
              "mark": {"type": "rule", "color": "#222", "strokeWidth": 1.5},
              "encoding": {
                "x": {"field": "from", "type": "quantitative", "scale": {"domain": [0, 50], "nice": false, "zero": false}, "axis": null},
                "x2": {"field": "to"},
                "y": {"datum": 1, "type": "quantitative", "scale": {"domain": [0, 1], "range": [57, 0], "nice": false}, "axis": null},
                "y2": {"datum": 0}
              }
            },
            {
              "width": 701, "height": 40,
              "layer": [
                {
                  "data": {"values": [
                    {"kb": 23.2, "reads": 0.015}, {"kb": 23.329, "reads": 0.015}, {"kb": 23.366, "reads": 0.01}, {"kb": 23.372, "reads": 0.38}, {"kb": 23.45, "reads": 0.45}, {"kb": 23.458, "reads": 0.3}, {"kb": 23.522, "reads": 0.3}, {"kb": 23.529, "reads": 0.45}, {"kb": 23.601, "reads": 0.47}, {"kb": 23.651, "reads": 0.42}, {"kb": 23.722, "reads": 0.33}, {"kb": 23.729, "reads": 0.015},
                    {"kb": 24.08, "reads": 0.02}, {"kb": 24.437, "reads": 0.015}, {"kb": 24.795, "reads": 0.02}, {"kb": 24.974, "reads": 0.02}, {"kb": 24.981, "reads": 0.33}, {"kb": 25.045, "reads": 0.38}, {"kb": 25.081, "reads": 0.45}, {"kb": 25.117, "reads": 0.57}, {"kb": 25.153, "reads": 0.6}, {"kb": 25.189, "reads": 0.45}, {"kb": 25.224, "reads": 0.43}, {"kb": 25.232, "reads": 0.02},
                    {"kb": 25.51, "reads": 0.03}, {"kb": 25.868, "reads": 0.05}, {"kb": 26.226, "reads": 0.03}, {"kb": 26.583, "reads": 0.02}, {"kb": 26.941, "reads": 0.03}, {"kb": 27.3, "reads": 0.04}, {"kb": 27.7, "reads": 0.03}, {"kb": 28.05, "reads": 0.03}, {"kb": 28.164, "reads": 0.03}, {"kb": 28.171, "reads": 0.5}, {"kb": 28.25, "reads": 0.58}, {"kb": 28.3, "reads": 0.47}, {"kb": 28.4, "reads": 0.43}
                  ]},
                  "mark": {"type": "area", "color": "#243f98", "interpolate": "linear"},
                  "encoding": {
                    "x": {"field": "kb", "type": "quantitative", "scale": {"domain": [23.2, 28.4], "range": [-15, 712], "nice": false, "zero": false}, "axis": null},
                    "y": {"field": "reads", "type": "quantitative", "scale": {"domain": [0, 0.667], "range": [40, 0], "nice": false}, "axis": null}
                  }
                },
                {
                  "data": {"values": [{"track": "WT"}]},
                  "mark": {"type": "text", "align": "left", "baseline": "middle", "dx": 26, "fontSize": 27},
                  "encoding": {"x": {"datum": 28.4, "type": "quantitative", "axis": null}, "y": {"datum": 0, "type": "quantitative", "axis": null}, "text": {"field": "track"}}
                }
              ]
            },
            {
              "width": 701, "height": 89,
              "layer": [
                {
                  "data": {"values": [
                    {"kb": 23.2, "reads": 0.02}, {"kb": 23.365, "reads": 0.02}, {"kb": 23.372, "reads": 0.18}, {"kb": 23.43, "reads": 0.16}, {"kb": 23.5, "reads": 0.07}, {"kb": 23.6, "reads": 0.04}, {"kb": 23.8, "reads": 0.03},
                    {"kb": 24.1, "reads": 0.05}, {"kb": 24.4, "reads": 0.03}, {"kb": 24.8, "reads": 0.04}, {"kb": 25.1, "reads": 0.06}, {"kb": 25.4, "reads": 0.03}, {"kb": 25.7, "reads": 0.05}, {"kb": 26.0, "reads": 0.03}, {"kb": 26.3, "reads": 0.05}, {"kb": 26.6, "reads": 0.03}, {"kb": 26.9, "reads": 0.04}, {"kb": 27.2, "reads": 0.03}, {"kb": 27.5, "reads": 0.05}, {"kb": 27.8, "reads": 0.04}, {"kb": 28.1, "reads": 0.05}, {"kb": 28.4, "reads": 0.05}
                  ]},
                  "mark": {"type": "area", "color": "#18a04a", "interpolate": "monotone"},
                  "encoding": {
                    "x": {"field": "kb", "type": "quantitative", "scale": {"domain": [23.2, 28.4], "range": [-15, 712], "nice": false, "zero": false}, "axis": null},
                    "y": {"field": "reads", "type": "quantitative", "scale": {"domain": [0, 1.483], "range": [89, 0], "nice": false}, "axis": null}
                  }
                },
                {
                  "data": {"values": [{"track": "NOD1⁻ᐟ⁻"}]},
                  "mark": {"type": "text", "align": "left", "baseline": "middle", "dx": 26, "fontSize": 27},
                  "encoding": {"x": {"datum": 28.4, "type": "quantitative", "axis": null}, "y": {"datum": 0, "type": "quantitative", "axis": null}, "text": {"field": "track"}}
                }
              ]
            },
            {
              "width": 701, "height": 89,
              "layer": [
                {
                  "data": {"values": [
                    {"kb": 23.2, "reads": 0.09}, {"kb": 23.243, "reads": 0.08}, {"kb": 23.365, "reads": 0.03}, {"kb": 23.372, "reads": 0.72}, {"kb": 23.45, "reads": 0.78}, {"kb": 23.5, "reads": 0.67}, {"kb": 23.543, "reads": 0.75}, {"kb": 23.58, "reads": 0.7}, {"kb": 23.601, "reads": 0.5}, {"kb": 23.629, "reads": 0.48}, {"kb": 23.636, "reads": 0.01},
                    {"kb": 24.5, "reads": 0.01}, {"kb": 25.1, "reads": 0.03}, {"kb": 25.5, "reads": 0.01}, {"kb": 27.0, "reads": 0.01}, {"kb": 27.084, "reads": 0.02}, {"kb": 27.141, "reads": 0.15}, {"kb": 27.191, "reads": 0.55}, {"kb": 27.241, "reads": 0.75}, {"kb": 27.299, "reads": 0.8}, {"kb": 27.37, "reads": 0.85}, {"kb": 27.427, "reads": 0.95}, {"kb": 27.456, "reads": 0.78}, {"kb": 27.513, "reads": 0.82}, {"kb": 27.621, "reads": 0.9}, {"kb": 27.642, "reads": 1.05}, {"kb": 27.728, "reads": 1.05}, {"kb": 27.764, "reads": 0.92}, {"kb": 27.814, "reads": 0.95}, {"kb": 27.871, "reads": 1.1}, {"kb": 27.942, "reads": 1.05}, {"kb": 28.014, "reads": 1.2}, {"kb": 28.05, "reads": 1.1}, {"kb": 28.121, "reads": 1.2}, {"kb": 28.193, "reads": 1.25}, {"kb": 28.264, "reads": 1.3}, {"kb": 28.336, "reads": 1.25}, {"kb": 28.4, "reads": 1.32}
                  ]},
                  "mark": {"type": "area", "color": "#e21f2f", "interpolate": "linear"},
                  "encoding": {
                    "x": {"field": "kb", "type": "quantitative", "scale": {"domain": [23.2, 28.4], "range": [-15, 712], "nice": false, "zero": false}, "axis": null},
                    "y": {"field": "reads", "type": "quantitative", "scale": {"domain": [0, 1.483], "range": [89, 0], "nice": false}, "axis": null}
                  }
                },
                {
                  "data": {"values": [{"track": "ΔCARD NOD1"}]},
                  "mark": {"type": "text", "align": "left", "baseline": "middle", "dx": 26, "dy": -7, "fontSize": 27},
                  "encoding": {"x": {"datum": 28.4, "type": "quantitative", "axis": null}, "y": {"datum": 0, "type": "quantitative", "axis": null}, "text": {"field": "track"}}
                }
              ]
            },
            {
              "width": 701, "height": 87,
              "layer": [
                {
                  "data": {"values": [{"from": 23.243, "to": 28.193}]},
                  "mark": {"type": "rule", "color": "#222", "strokeWidth": 1.5},
                  "encoding": {
                    "x": {"field": "from", "type": "quantitative", "scale": {"domain": [23.2, 28.4], "range": [-15, 712], "nice": false, "zero": false}, "axis": null},
                    "x2": {"field": "to"},
                    "y": {"datum": 0.72, "type": "quantitative", "scale": {"domain": [0, 3], "range": [87, 0], "nice": false}, "axis": null}
                  }
                },
                {
                  "data": {"values": [{"exon": "2", "start": 23.372, "end": 23.486, "part": "card"}]},
                  "mark": {"type": "rect", "stroke": "#1a1a1a", "strokeWidth": 2},
                  "encoding": {
                    "x": {"field": "start", "type": "quantitative", "axis": null},
                    "x2": {"field": "end"},
                    "y": {"datum": 0.34, "type": "quantitative", "axis": null},
                    "y2": {"datum": 1.17},
                    "fill": {"field": "part", "type": "nominal", "scale": {"domain": ["exon1", "card", "nod", "lrr", "neo", "vector"], "range": ["#fce01b", "#18a0d8", "#b2b6b8", "#6f4190", "#231f20", "#ffffff"]}, "legend": null}
                  }
                },
                {
                  "data": {"values": [
                    {"exon": "2", "start": 23.486, "end": 23.694, "part": "card"},
                    {"exon": "3", "start": 25.017, "end": 25.189, "part": "card"},
                    {"exon": "4", "start": 28.193, "end": 28.4, "part": "nod"}
                  ]},
                  "mark": {"type": "rect", "stroke": "#1a1a1a", "strokeWidth": 2},
                  "encoding": {
                    "x": {"field": "start", "type": "quantitative", "axis": null},
                    "x2": {"field": "end"},
                    "y": {"datum": 0, "type": "quantitative", "axis": null},
                    "y2": {"datum": 1.52},
                    "fill": {"field": "part", "type": "nominal", "scale": {"domain": ["exon1", "card", "nod", "lrr", "neo", "vector"], "range": ["#fce01b", "#18a0d8", "#b2b6b8", "#6f4190", "#231f20", "#ffffff"]}, "legend": null}
                  }
                },
                {
                  "data": {"values": [{"exon": "2", "kb": 23.586}, {"exon": "3", "kb": 25.103}, {"exon": "4", "kb": 28.3}]},
                  "mark": {"type": "text", "fontSize": 24, "baseline": "middle"},
                  "encoding": {
                    "x": {"field": "kb", "type": "quantitative", "axis": null},
                    "y": {"datum": 1.97, "type": "quantitative", "axis": null},
                    "text": {"field": "exon"}
                  }
                },
                {
                  "data": {"values": [{"track": "Exon"}]},
                  "mark": {"type": "text", "align": "left", "baseline": "middle", "dx": 26, "fontSize": 27},
                  "encoding": {"x": {"datum": 28.4, "type": "quantitative", "axis": null}, "y": {"datum": 0.93, "type": "quantitative", "axis": null}, "text": {"field": "track"}}
                }
              ]
            }
          ],
          "spacing": 0,
          "bounds": "flush",
          "title": {"text": "c", "orient": "top", "anchor": "start", "frame": "group", "offset": -87, "dx": -160, "baseline": "alphabetic", "fontSize": 45, "fontWeight": "bold"}
        }
      ],
      "spacing": -36,
      "bounds": "full",
      "align": "none"
    },
    {
      "width": 1800, "height": 300,
      "title": {"text": "d", "orient": "top", "anchor": "start", "frame": "group", "offset": -110, "dx": 253, "baseline": "alphabetic", "fontSize": 45, "fontWeight": "bold"},
      "layer": [
        {
          "data": {"values": [{"from": 56.9, "to": 168.7}]},
          "mark": {"type": "rule", "color": "#1a1a1a", "strokeWidth": 2},
          "encoding": {
            "x": {"field": "from", "type": "quantitative", "scale": {"domain": [0, 180], "nice": false, "zero": false}, "axis": null},
            "x2": {"field": "to"},
            "y": {"datum": 10.3, "type": "quantitative", "scale": {"domain": [0, 30], "range": [0, 300], "nice": false, "zero": false}, "axis": null}
          }
        },
        {
          "data": {"values": [{"from": 102.2, "to": 114.1}]},
          "mark": {"type": "rule", "color": "#1a1a1a", "strokeWidth": 2},
          "encoding": {
            "x": {"field": "from", "type": "quantitative", "axis": null},
            "x2": {"field": "to"},
            "y": {"datum": 28.3, "type": "quantitative", "axis": null}
          }
        },
        {
          "data": {"values": [{"from": 53.3, "to": 79.2}, {"from": 177.4, "to": 149.8}]},
          "mark": {"type": "rule", "color": "#1a1a1a", "strokeWidth": 2, "strokeDash": [4, 4]},
          "encoding": {
            "x": {"field": "from", "type": "quantitative", "axis": null},
            "x2": {"field": "to"},
            "y": {"datum": 11.8, "type": "quantitative", "axis": null},
            "y2": {"datum": 26.8}
          }
        },
        {
          "data": {"values": [
            {"feature": "1", "start": 53.3, "end": 56.9, "part": "exon1"},
            {"feature": "2", "start": 62.4, "end": 64.9, "part": "card"},
            {"feature": "vector 5'", "start": 64.9, "end": 68.3, "part": "vector"},
            {"feature": "Neo", "start": 68.3, "end": 76.7, "part": "neo"},
            {"feature": "vector 3'", "start": 76.7, "end": 81.7, "part": "vector"},
            {"feature": "4", "start": 93.4, "end": 112.4, "part": "nod"},
            {"feature": "5", "start": 126.3, "end": 127.4, "part": "lrr"},
            {"feature": "6", "start": 129.5, "end": 130.6, "part": "lrr"},
            {"feature": "7", "start": 131.7, "end": 132.8, "part": "lrr"},
            {"feature": "8", "start": 139.3, "end": 140.3, "part": "lrr"},
            {"feature": "9", "start": 141.9, "end": 142.9, "part": "lrr"},
            {"feature": "10", "start": 151.7, "end": 152.7, "part": "lrr"},
            {"feature": "11", "start": 157.5, "end": 158.5, "part": "lrr"},
            {"feature": "12", "start": 168.7, "end": 177.4, "part": "lrr"}
          ]},
          "mark": {"type": "rect", "stroke": "#333", "strokeWidth": 2},
          "encoding": {
            "x": {"field": "start", "type": "quantitative", "axis": null},
            "x2": {"field": "end"},
            "y": {"datum": 8.9, "type": "quantitative", "axis": null},
            "y2": {"datum": 11.8},
            "fill": {"field": "part", "type": "nominal", "scale": {"domain": ["exon1", "card", "nod", "lrr", "neo", "vector"], "range": ["#fce01b", "#18a0d8", "#b2b6b8", "#6f4190", "#231f20", "#ffffff"]}, "legend": null}
          }
        },
        {
          "data": {"values": [
            {"feature": "1", "start": 79.2, "end": 82.7, "part": "exon1"},
            {"feature": "2", "start": 82.7, "end": 85.1, "part": "card"},
            {"feature": "vector 5'", "start": 85.1, "end": 88.5, "part": "vector"},
            {"feature": "Neo", "start": 88.5, "end": 96.8, "part": "neo"},
            {"feature": "vector 3'", "start": 96.8, "end": 102.2, "part": "vector"},
            {"feature": "4", "start": 114.1, "end": 133.0, "part": "nod"},
            {"feature": "5", "start": 133.0, "end": 134.1, "part": "lrr"},
            {"feature": "6", "start": 134.1, "end": 135.2, "part": "lrr"},
            {"feature": "7", "start": 135.2, "end": 136.2, "part": "lrr"},
            {"feature": "8", "start": 136.2, "end": 137.3, "part": "lrr"},
            {"feature": "9", "start": 137.3, "end": 138.4, "part": "lrr"},
            {"feature": "10", "start": 138.4, "end": 139.4, "part": "lrr"},
            {"feature": "11", "start": 139.4, "end": 140.5, "part": "lrr"},
            {"feature": "12", "start": 140.5, "end": 149.8, "part": "lrr"}
          ]},
          "mark": {"type": "rect", "stroke": "#333", "strokeWidth": 2},
          "encoding": {
            "x": {"field": "start", "type": "quantitative", "axis": null},
            "x2": {"field": "end"},
            "y": {"datum": 26.8, "type": "quantitative", "axis": null},
            "y2": {"datum": 29.8},
            "fill": {"field": "part", "type": "nominal", "scale": {"domain": ["exon1", "card", "nod", "lrr", "neo", "vector"], "range": ["#fce01b", "#18a0d8", "#b2b6b8", "#6f4190", "#231f20", "#ffffff"]}, "legend": null}
          }
        },
        {
          "data": {"values": [{"from": 58.8, "to": 60.0}, {"from": 59.7, "to": 60.9}]},
          "mark": {"type": "rule", "color": "#1a1a1a", "strokeWidth": 1.5},
          "encoding": {
            "x": {"field": "from", "type": "quantitative", "axis": null},
            "x2": {"field": "to"},
            "y": {"datum": 11.5, "type": "quantitative", "axis": null},
            "y2": {"datum": 9.3}
          }
        },
        {
          "data": {"values": [
            {"label": "1", "at": 54.8}, {"label": "2", "at": 63.7}, {"label": "4", "at": 101.3}, {"label": "5", "at": 126.8}, {"label": "6", "at": 130.0}, {"label": "7", "at": 132.2},
            {"label": "8", "at": 139.8}, {"label": "9", "at": 142.4}, {"label": "10", "at": 152.2}, {"label": "11", "at": 158.0}, {"label": "12", "at": 173.0}
          ]},
          "mark": {"type": "text", "fontSize": 24, "baseline": "middle"},
          "encoding": {
            "x": {"field": "at", "type": "quantitative", "axis": null},
            "y": {"datum": 6.2, "type": "quantitative", "axis": null},
            "text": {"field": "label"}
          }
        },
        {
          "data": {"values": [{"label": "Neo", "at": 72.6}]},
          "mark": {"type": "text", "fontSize": 24, "fontStyle": "italic", "baseline": "middle"},
          "encoding": {
            "x": {"field": "at", "type": "quantitative", "axis": null},
            "y": {"datum": 6.2, "type": "quantitative", "axis": null},
            "text": {"field": "label"}
          }
        },
        {
          "data": {"values": [
            {"label": "1", "at": 81.0}, {"label": "2", "at": 83.9}, {"label": "4", "at": 123.6}, {"label": "5", "at": 133.4}, {"label": "7", "at": 135.6}, {"label": "9", "at": 137.7}, {"label": "11", "at": 139.9}, {"label": "12", "at": 145.0}
          ]},
          "mark": {"type": "text", "fontSize": 24, "baseline": "middle"},
          "encoding": {
            "x": {"field": "at", "type": "quantitative", "axis": null},
            "y": {"datum": 24.7, "type": "quantitative", "axis": null},
            "text": {"field": "label"}
          }
        },
        {
          "data": {"values": [{"label": "6", "at": 134.6}, {"label": "8", "at": 136.7}, {"label": "10", "at": 138.9}]},
          "mark": {"type": "text", "fontSize": 24, "baseline": "middle"},
          "encoding": {
            "x": {"field": "at", "type": "quantitative", "axis": null},
            "y": {"datum": 22.2, "type": "quantitative", "axis": null},
            "text": {"field": "label"}
          }
        },
        {
          "data": {"values": [{"label": "Neo", "at": 92.6}]},
          "mark": {"type": "text", "fontSize": 24, "fontStyle": "italic", "baseline": "middle"},
          "encoding": {
            "x": {"field": "at", "type": "quantitative", "axis": null},
            "y": {"datum": 24.7, "type": "quantitative", "axis": null},
            "text": {"field": "label"}
          }
        },
        {
          "data": {"values": [{"label": "Exon", "at": 50.9}]},
          "mark": {"type": "text", "fontSize": 26, "align": "right", "baseline": "middle"},
          "encoding": {
            "x": {"field": "at", "type": "quantitative", "axis": null},
            "y": {"datum": 6.2, "type": "quantitative", "axis": null},
            "text": {"field": "label"}
          }
        },
        {
          "data": {"values": [{"label": "ΔCARD Nod1", "at": 50.9}]},
          "mark": {"type": "text", "fontSize": 26, "align": "right", "baseline": "middle"},
          "encoding": {
            "x": {"field": "at", "type": "quantitative", "axis": null},
            "y": {"datum": 10.3, "type": "quantitative", "axis": null},
            "text": {"field": "label"}
          }
        },
        {
          "data": {"values": [{"label": "genome DNA", "at": 50.9}]},
          "mark": {"type": "text", "fontSize": 26, "align": "right", "baseline": "middle"},
          "encoding": {
            "x": {"field": "at", "type": "quantitative", "axis": null},
            "y": {"datum": 13.7, "type": "quantitative", "axis": null},
            "text": {"field": "label"}
          }
        },
        {
          "data": {"values": [{"label": "ΔCARD Nod1 cDNA", "at": 57.9}]},
          "mark": {"type": "text", "fontSize": 26, "align": "right", "baseline": "middle"},
          "encoding": {
            "x": {"field": "at", "type": "quantitative", "axis": null},
            "y": {"datum": 28.3, "type": "quantitative", "axis": null},
            "text": {"field": "label"}
          }
        }
      ]
    }
  ]
}
